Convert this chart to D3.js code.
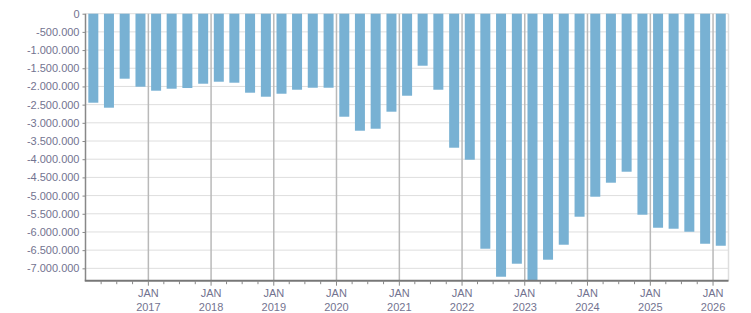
<!DOCTYPE html>
<html><head><meta charset="utf-8">
<script src="https://cdn.jsdelivr.net/npm/d3@7"></script>
<style>body{margin:0;background:#fff}svg{display:block}</style>
</head><body>
<svg id="c" width="751" height="313"></svg>
<script>
// Quarterly values, 2016 Q1 .. 2026 Q1
const quarters = [];
for (let y = 2016; y <= 2026; y++) for (let q = 0; q < 4; q++) { if (y === 2026 && q > 0) break; quarters.push(y + "Q" + (q + 1)); }
const values = [
  -2447000, -2584000, -1787000, -2007000,
  -2117000, -2062000, -2043000, -1925000,
  -1870000, -1897000, -2172000, -2282000,
  -2200000, -2090000, -2035000, -2035000,
  -2832000, -3217000, -3162000, -2694000,
  -2255000, -1430000, -2090000, -3684000,
  -4014000, -6461000, -7231000, -6873000,
  -7340000, -6763000, -6351000, -5581000,
  -5031000, -4646000, -4344000, -5526000,
  -5884000, -5911000, -5994000, -6324000,
  -6379000
];
const yTicks = d3.range(0, -7000001, -500000);
const xYears = d3.range(2017, 2027);
const xTickTop = "JAN";

const svg = d3.select("#c");
const L = 85.5, R = 728.5, T = 13.7, B = 280.7;
const x = d3.scaleTime().domain([new Date(2016,0,1), new Date(2026,3,1)]).range([L, R]);
const y = d3.scaleLinear().domain([d3.min(values), 0]).range([B, T]);
const loc = d3.formatLocale({decimal: ",", thousands: ".", grouping: [3], currency: ["", ""], minus: "-"});
const fmt = loc.format(",d");
const qStart = s => { const yr = +s.slice(0,4), q = +s.slice(5) - 1; return new Date(yr, q*3, 1); };
const qEnd = s => { const yr = +s.slice(0,4), q = +s.slice(5); return new Date(yr, q*3, 1); };
const textColor = "#737390";

// horizontal grid
svg.append("g").selectAll("line").data(yTicks).join("line")
  .attr("x1", L).attr("x2", R).attr("y1", d => y(d)).attr("y2", d => y(d))
  .attr("stroke", "#dedede").attr("stroke-width", 1);
// right border
svg.append("line").attr("x1", R).attr("x2", R).attr("y1", T).attr("y2", B)
  .attr("stroke", "#dedede").attr("stroke-width", 1.5);
// vertical year lines
svg.append("g").selectAll("line").data(xYears).join("line")
  .attr("x1", d => x(new Date(d,0,1))).attr("x2", d => x(new Date(d,0,1)))
  .attr("y1", T).attr("y2", B)
  .attr("stroke", "#b9b9b9").attr("stroke-width", 1.5);

// bars
const bw = 10;
svg.append("g").selectAll("rect").data(quarters).join("rect")
  .attr("x", (d) => (x(qStart(d)) + x(qEnd(d))) / 2 - bw / 2)
  .attr("width", bw)
  .attr("y", y(0))
  .attr("height", (d, i) => y(values[i]) - y(0))
  .attr("fill", "#78b1d3");

// left axis
const gy = svg.append("g").attr("transform", `translate(${L},0)`)
  .call(d3.axisLeft(y).tickValues(yTicks).tickFormat(fmt).tickSize(3).tickPadding(3));
gy.select(".domain").attr("stroke", "#888").attr("stroke-width", 1.5).attr("d", `M0,${T}V${B}`);
gy.selectAll(".tick line").attr("stroke", "#888");
gy.selectAll("text").attr("fill", textColor).style("font-family", "Liberation Sans, Arial, sans-serif").style("font-size", "11px");

// bottom axis
const qTicks = quarters.map(qStart).filter(d => d > x.domain()[0]);
qTicks.push(new Date(2026,3,1));
const gx = svg.append("g").attr("transform", `translate(0,${B})`);
gx.append("line").attr("x1", L - 0.75).attr("x2", R).attr("y1", 0).attr("y2", 0)
  .attr("stroke", "#777").attr("stroke-width", 2);
gx.selectAll("line.qt").data(qTicks.filter(d => x(d) < R - 1)).join("line").attr("class", "qt")
  .attr("x1", d => x(d)).attr("x2", d => x(d)).attr("y1", 0)
  .attr("y2", d => d.getMonth() === 0 ? 5 : 3.5)
  .attr("stroke", "#888").attr("stroke-width", 1);
const lab = gx.selectAll("text.yl").data(xYears).join("text").attr("class", "yl")
  .attr("x", d => x(new Date(d,0,1)))
  .attr("text-anchor", "middle")
  .attr("fill", textColor)
  .style("font-family", "Liberation Sans, Arial, sans-serif").style("font-size", "11px");
lab.append("tspan").attr("x", d => x(new Date(d,0,1))).attr("y", 16.5).text(xTickTop);
lab.append("tspan").attr("x", d => x(new Date(d,0,1))).attr("y", 30).text(d => d);
</script>
</body></html>
